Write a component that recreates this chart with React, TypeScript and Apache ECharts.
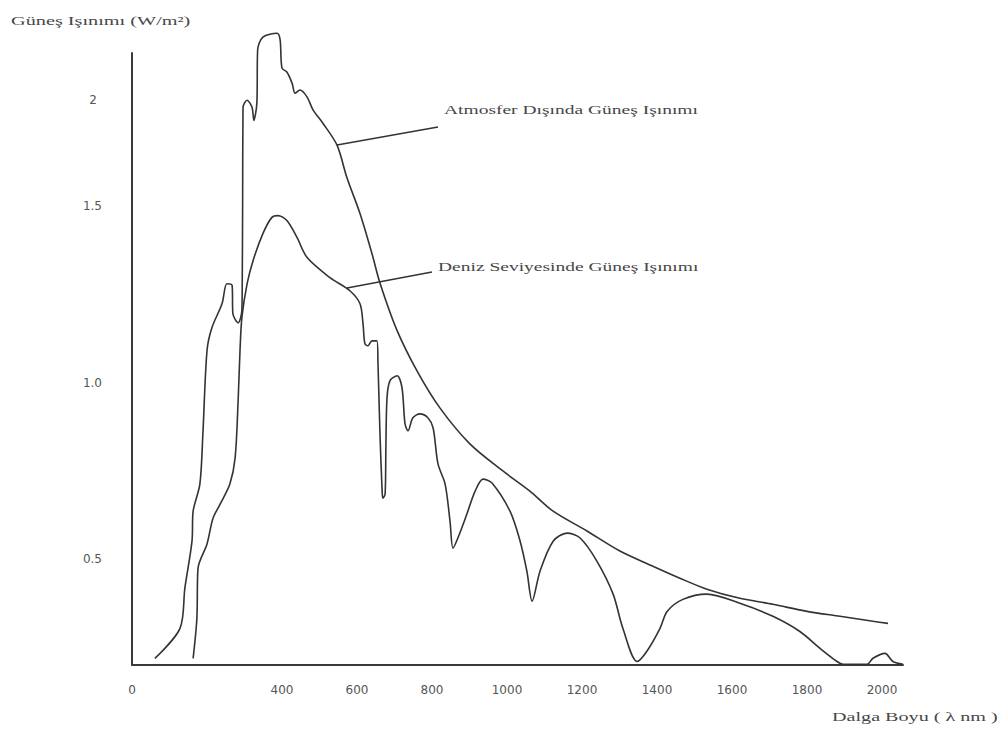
import React, { useEffect, useRef } from "react";
import * as echarts from "echarts";

// Güneş ışınımı, atmosfer dışında (nm, W/m²)
const atmWavelength = [61, 128, 141, 160, 163, 181, 189, 200, 213, 240, 253, 267, 269, 283, 293, 294, 295, 296, 307, 320, 325, 333, 335, 349, 387, 395, 400, 413, 427, 435, 448, 467, 483, 509, 547, 573, 608, 640, 661, 707, 760, 821, 901, 989, 1061, 1123, 1213, 1301, 1389, 1461, 1533, 1621, 1709, 1800, 1888, 1976, 2016];
const atmIrradiance = [0.219, 0.304, 0.418, 0.551, 0.636, 0.713, 0.855, 1.091, 1.156, 1.224, 1.281, 1.276, 1.196, 1.17, 1.205, 1.29, 1.5, 1.781, 1.801, 1.781, 1.744, 1.793, 1.943, 1.98, 1.991, 1.972, 1.892, 1.881, 1.849, 1.821, 1.83, 1.81, 1.773, 1.736, 1.673, 1.582, 1.48, 1.366, 1.284, 1.148, 1.034, 0.929, 0.827, 0.75, 0.693, 0.636, 0.58, 0.523, 0.48, 0.446, 0.415, 0.389, 0.372, 0.352, 0.338, 0.324, 0.318];

// Güneş ışınımı, deniz seviyesinde (nm, W/m²)
const seaWavelength = [163, 173, 176, 200, 216, 235, 261, 275, 283, 288, 293, 307, 323, 349, 373, 389, 413, 440, 467, 528, 581, 608, 616, 621, 629, 640, 653, 656, 661, 667, 669, 675, 677, 680, 688, 707, 720, 728, 736, 749, 768, 789, 803, 816, 835, 848, 856, 869, 893, 915, 936, 960, 1008, 1035, 1053, 1067, 1088, 1123, 1160, 1195, 1240, 1283, 1309, 1347, 1373, 1408, 1427, 1469, 1533, 1621, 1709, 1781, 1835, 1880, 1896, 1960, 1976, 2008, 2029, 2056];
const seaIrradiance = [0.219, 0.332, 0.474, 0.543, 0.616, 0.656, 0.713, 0.787, 0.949, 1.091, 1.185, 1.281, 1.347, 1.423, 1.469, 1.474, 1.46, 1.412, 1.355, 1.298, 1.261, 1.224, 1.168, 1.111, 1.105, 1.119, 1.119, 1.054, 0.864, 0.693, 0.673, 0.685, 0.815, 0.957, 1.006, 1.02, 0.986, 0.884, 0.864, 0.901, 0.912, 0.901, 0.872, 0.77, 0.713, 0.608, 0.531, 0.56, 0.628, 0.693, 0.727, 0.716, 0.636, 0.551, 0.466, 0.381, 0.466, 0.551, 0.574, 0.56, 0.494, 0.401, 0.304, 0.21, 0.239, 0.304, 0.352, 0.386, 0.401, 0.375, 0.338, 0.295, 0.247, 0.21, 0.202, 0.202, 0.219, 0.233, 0.21, 0.202];

const xTickLabels = [0, 400, 600, 800, 1000, 1200, 1400, 1600, 1800, 2000];
const yTickLabels = [0.5, 1.0, 1.5];

const yAxisTitle = "Güneş Işınımı (W/m²)";
const xAxisTitle = "Dalga Boyu ( λ nm )";
const atmLabel = "Atmosfer Dışında Güneş Işınımı";
const seaLabel = "Deniz Seviyesinde Güneş Işınımı";

const lineColor = "#333333";
const serif = "'Liberation Serif', 'Times New Roman', serif";
const sans = "'DejaVu Sans', sans-serif";

function zip(xs: number[], ys: number[]) {
  return xs.map((x, i) => [x, ys[i]]);
}

export default function App() {
  const ref = useRef<HTMLDivElement>(null);

  useEffect(() => {
    if (!ref.current) return;
    const chart = echarts.init(ref.current, undefined, { renderer: "svg" });

    const serifText = (text: string, x: number, y: number, sx: number) => ({
      type: "text",
      x,
      y,
      scaleX: sx,
      style: {
        text,
        fontFamily: serif,
        fontSize: 13,
        fill: "#474747",
        textAlign: "left",
        textVerticalAlign: "middle",
      },
    });

    chart.setOption({
      animation: false,
      backgroundColor: "#ffffff",
      grid: { left: 132, right: 104, top: 53, bottom: 66, containLabel: false },
      xAxis: {
        type: "value",
        min: 0,
        max: 2056,
        axisLine: { show: true, lineStyle: { color: "#3a3a3a", width: 2 } },
        axisTick: { show: false },
        splitLine: { show: false },
        axisLabel: {
          customValues: xTickLabels,
          margin: 19,
          fontFamily: sans,
          fontSize: 12,
          color: "#555555",
          formatter: (v: number) => String(v),
        },
      },
      yAxis: {
        type: "value",
        min: 0.2,
        max: 1.935,
        axisLine: { show: true, lineStyle: { color: "#3a3a3a", width: 2 } },
        axisTick: { show: false },
        splitLine: { show: false },
        axisLabel: {
          customValues: yTickLabels,
          margin: 30,
          fontFamily: sans,
          fontSize: 12,
          color: "#555555",
          formatter: (v: number) => v.toFixed(1),
        },
      },
      series: [
        {
          name: atmLabel,
          type: "line",
          data: zip(atmWavelength, atmIrradiance),
          showSymbol: false,
          smooth: 0.3,
          clip: false,
          lineStyle: { color: lineColor, width: 1.6 },
        },
        {
          name: seaLabel,
          type: "line",
          data: zip(seaWavelength, seaIrradiance),
          showSymbol: false,
          smooth: 0.3,
          clip: false,
          lineStyle: { color: lineColor, width: 1.6 },
        },
      ],
      graphic: [
        serifText(yAxisTitle, 11, 21, 1.56),
        serifText(atmLabel, 444, 110, 1.5),
        serifText(seaLabel, 438, 267, 1.5),
        serifText(xAxisTitle, 832, 717, 1.55),
        {
          type: "text",
          x: 93,
          y: 100,
          style: {
            text: "2",
            fontFamily: sans,
            fontSize: 12,
            fill: "#555555",
            textAlign: "center",
            textVerticalAlign: "middle",
          },
        },
        {
          type: "line",
          shape: { x1: 438, y1: 127, x2: 337, y2: 145 },
          style: { stroke: lineColor, lineWidth: 1.3 },
        },
        {
          type: "line",
          shape: { x1: 432, y1: 272, x2: 347, y2: 288 },
          style: { stroke: lineColor, lineWidth: 1.3 },
        },
      ],
    });

    return () => chart.dispose();
  }, []);

  return (
    <div
      ref={ref}
      style={{ position: "fixed", left: 0, top: 0, width: 1007, height: 731 }}
    />
  );
}
